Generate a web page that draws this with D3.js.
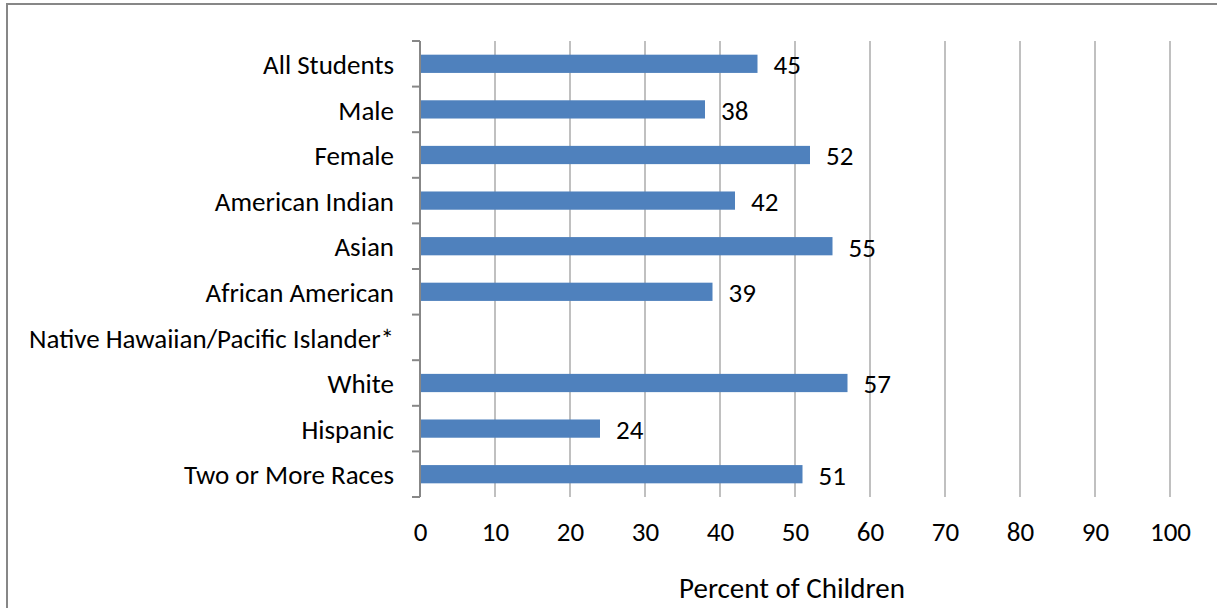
<!DOCTYPE html>
<html>
<head>
<meta charset="utf-8">
<script src="https://cdn.jsdelivr.net/npm/d3@7"></script>
<style>
  html, body { margin: 0; padding: 0; background: #fff; }
  svg { display: block; }
  text { font-family: Carlito, Lato, "Open Sans", sans-serif; fill: #000; }
</style>
</head>
<body>
<svg id="chart" width="1217" height="608"></svg>
<script>
const categories = ["All Students", "Male", "Female", "American Indian", "Asian",
  "African American", "Native Hawaiian/Pacific Islander*", "White", "Hispanic", "Two or More Races"];
const values = [45, 38, 52, 42, 55, 39, null, 57, 24, 51];
const xTicks = [0, 10, 20, 30, 40, 50, 60, 70, 80, 90, 100];
const xTitle = "Percent of Children";

const svg = d3.select("#chart");
const fs = 27;

// outer frame
svg.append("rect").attr("x", 7).attr("y", 4).attr("width", 1300).attr("height", 700)
  .attr("fill", "none").attr("stroke", "#878787").attr("stroke-width", 2);

const plotTop = 41, plotBottom = 497;
const x = d3.scaleLinear().domain([0, 100]).range([420, 1170]);
const y = d3.scaleBand().domain(categories).range([plotTop, plotBottom]).paddingInner(0.6).paddingOuter(0.3);

// gridlines
svg.append("g").selectAll("line").data(xTicks.filter(d => d > 0)).join("line")
  .attr("x1", d => x(d)).attr("x2", d => x(d))
  .attr("y1", plotTop).attr("y2", plotBottom)
  .attr("stroke", "#c0c0c0").attr("stroke-width", 2);

// bars
const data = categories.map((c, i) => ({c, v: values[i]})).filter(d => d.v != null);
svg.append("g").selectAll("rect").data(data).join("rect")
  .attr("x", x(0)).attr("y", d => y(d.c))
  .attr("width", d => x(d.v) - x(0)).attr("height", y.bandwidth())
  .attr("fill", "#4f81bd");

// value labels
svg.append("g").selectAll("text").data(data).join("text")
  .attr("x", d => x(d.v) + 16).attr("y", d => y(d.c) + y.bandwidth() / 2 + 4)
  .attr("dominant-baseline", "middle").attr("font-size", fs)
  .text(d => d.v);

// y axis line and boundary ticks
const step = y.step();
const boundaries = d3.range(categories.length + 1).map(i => plotTop + i * step);
const ay = svg.append("g");
ay.append("line").attr("x1", 420).attr("x2", 420).attr("y1", plotTop).attr("y2", plotBottom)
  .attr("stroke", "#878787").attr("stroke-width", 2);
ay.selectAll("line.tk").data(boundaries).join("line").attr("class", "tk")
  .attr("x1", 412).attr("x2", 420).attr("y1", d => d).attr("y2", d => d)
  .attr("stroke", "#878787").attr("stroke-width", 2);

// y category labels via axis
const yAxis = d3.axisLeft(y).tickSize(0).tickPadding(26);
const gy = svg.append("g").attr("transform", "translate(420,0)").call(yAxis);
gy.select(".domain").remove();
gy.selectAll("text").attr("font-size", fs).attr("font-family", null).attr("fill", "#000")
  .attr("dy", "0.38em");

// x tick labels via axis
const xAxis = d3.axisBottom(x).tickValues(xTicks).tickSize(0).tickPadding(25);
const gx = svg.append("g").attr("transform", `translate(0,${plotBottom})`).call(xAxis);
gx.select(".domain").remove();
gx.selectAll("text").attr("font-size", fs).attr("font-family", null).attr("fill", "#000");

// title
svg.append("text").attr("x", 792).attr("y", 598).attr("text-anchor", "middle")
  .attr("font-size", 29).text(xTitle);
</script>
</body>
</html>
